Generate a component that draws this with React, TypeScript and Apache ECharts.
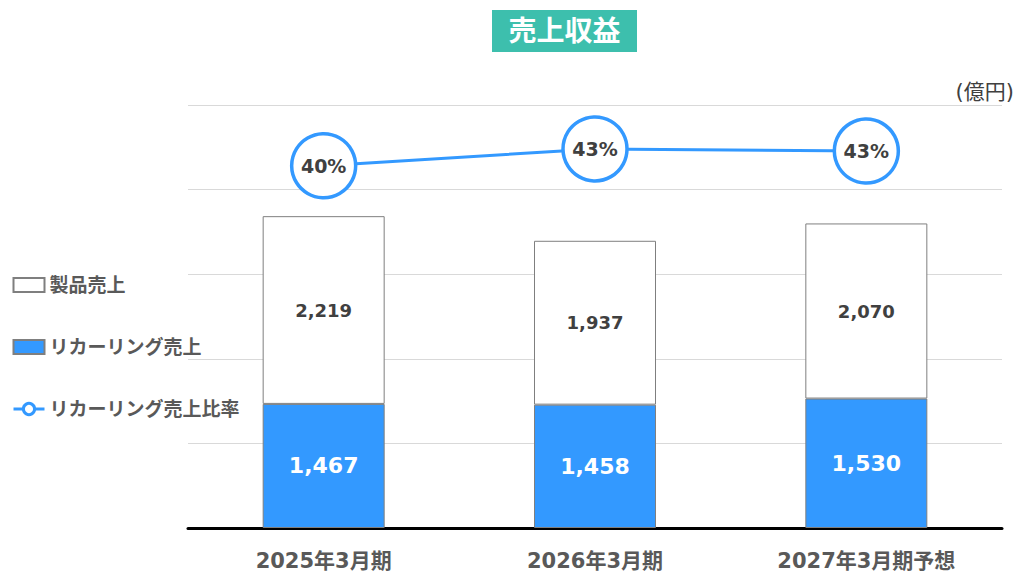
import React, { useEffect, useRef } from "react";
import * as echarts from "echarts";

const categories = ["2025年3月期", "2026年3月期", "2027年3月期予想"];
const recurringSales = [1467, 1458, 1530];
const productSales = [2219, 1937, 2070];
const recurringRatio = [39.8, 42.9, 42.5];
const seriesNames = ["製品売上", "リカーリング売上", "リカーリング売上比率"];

const FONT = "'DejaVu Sans', 'Noto Sans CJK JP', sans-serif";
const BLUE = "#3399ff";

export default function App() {
  const ref = useRef<HTMLDivElement>(null);
  useEffect(() => {
    if (!ref.current) return;
    const chart = echarts.init(ref.current, null, { renderer: "svg" });
    chart.setOption({
      animation: false,
      backgroundColor: "#ffffff",
      textStyle: { fontFamily: FONT },
      graphic: [
        {
          type: "rect",
          shape: { x: 492, y: 10, width: 145, height: 42 },
          style: { fill: "#3dbfad" },
        },
        {
          type: "text",
          x: 564.5,
          y: 31,
          style: {
            text: "売上収益",
            fill: "#ffffff",
            fontSize: 28,
            fontWeight: "bold",
            fontFamily: FONT,
            align: "center",
            verticalAlign: "middle",
          },
        },
        {
          type: "text",
          x: 1014,
          y: 92,
          style: {
            text: "(億円)",
            fill: "#404040",
            fontSize: 21,
            fontFamily: FONT,
            align: "right",
            verticalAlign: "middle",
          },
        },
      ],
      legend: {
        orient: "vertical",
        left: 12,
        top: 274,
        padding: 0,
        itemWidth: 31,
        itemHeight: 14,
        itemGap: 40,
        textStyle: {
          fontSize: 19,
          fontWeight: "bold",
          color: "#595959",
          fontFamily: FONT,
          lineHeight: 22,
        },
        data: [
          { name: seriesNames[0], icon: "rect" },
          { name: seriesNames[1], icon: "rect" },
          {
            name: seriesNames[2],
            itemStyle: { borderWidth: 3 },
            lineStyle: { width: 3 },
          },
        ],
      },
      grid: { left: 188, right: 13, top: 105, bottom: 46 },
      xAxis: {
        type: "category",
        data: categories,
        axisLine: { show: true, lineStyle: { color: "#000000", width: 3 } },
        axisTick: { show: false },
        axisLabel: {
          margin: 22,
          fontSize: 21,
          fontWeight: "bold",
          color: "#595959",
          fontFamily: FONT,
        },
      },
      yAxis: [
        {
          type: "value",
          min: 0,
          max: 5000,
          interval: 1000,
          axisLabel: { show: false },
          axisLine: { show: false },
          axisTick: { show: false },
          splitLine: { lineStyle: { color: "#d9d9d9", width: 1 } },
        },
        {
          type: "value",
          min: -27,
          max: 51,
          show: false,
          splitLine: { show: false },
        },
      ],
      series: [
        {
          name: seriesNames[1],
          type: "bar",
          stack: "sales",
          barWidth: 122,
          data: recurringSales,
          itemStyle: { color: BLUE, borderColor: "#7f7f7f", borderWidth: 1 },
          label: {
            show: true,
            position: "inside",
            fontSize: 22,
            fontWeight: "bold",
            color: "#ffffff",
            fontFamily: FONT,
            formatter: (p: any) => p.value.toLocaleString("en-US"),
          },
        },
        {
          name: seriesNames[0],
          type: "bar",
          stack: "sales",
          barWidth: 122,
          data: productSales,
          itemStyle: { color: "#ffffff", borderColor: "#7f7f7f", borderWidth: 1 },
          label: {
            show: true,
            position: "inside",
            fontSize: 18,
            fontWeight: "bold",
            color: "#404040",
            fontFamily: FONT,
            formatter: (p: any) => p.value.toLocaleString("en-US"),
          },
        },
        {
          name: seriesNames[2],
          type: "line",
          yAxisIndex: 1,
          data: recurringRatio,
          symbol: "circle",
          symbolSize: 64,
          z: 5,
          lineStyle: { color: BLUE, width: 3 },
          itemStyle: { color: "#ffffff", borderColor: BLUE, borderWidth: 3.5 },
          label: {
            show: true,
            position: "inside",
            fontSize: 19,
            fontWeight: "bold",
            color: "#404040",
            fontFamily: FONT,
            formatter: (p: any) => Math.round(p.value) + "%",
          },
        },
      ],
    });
    return () => chart.dispose();
  }, []);
  return (
    <div
      ref={ref}
      style={{ position: "fixed", left: 0, top: 0, width: 1015, height: 574 }}
    />
  );
}
